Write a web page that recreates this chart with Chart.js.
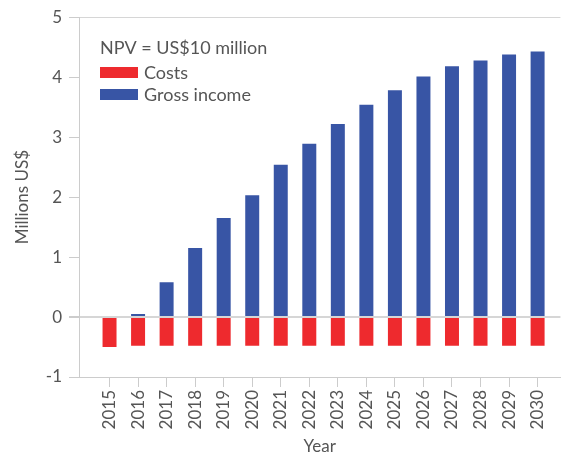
<!DOCTYPE html>
<html>
<head>
<meta charset="utf-8">
<script src="https://cdn.jsdelivr.net/npm/chart.js@4/dist/chart.umd.min.js"></script>
<style>
  html, body { margin: 0; padding: 0; background: #fff; }
  #wrap { width: 561px; height: 457px; }
</style>
</head>
<body>
<div id="wrap"><canvas id="chartNpv"></canvas></div>
<script>
// Datos (millones US$)
const years = [2015, 2016, 2017, 2018, 2019, 2020, 2021, 2022, 2023, 2024, 2025, 2026, 2027, 2028, 2029, 2030];
const costs = [-0.50, -0.48, -0.48, -0.48, -0.48, -0.48, -0.48, -0.48, -0.48, -0.48, -0.48, -0.48, -0.48, -0.48, -0.48, -0.48];
const grossIncome = [0, 0.05, 0.58, 1.15, 1.65, 2.03, 2.54, 2.89, 3.22, 3.54, 3.78, 4.01, 4.18, 4.28, 4.38, 4.43];
const yTicks = [-1, 0, 1, 2, 3, 4, 5];
const legendTitle = 'NPV = US$10 million';

const FONT = 'Lato, "Open Sans", sans-serif';
const TEXT = '#555555';
const LINE = '#cccccc';

// leyenda dibujada dentro del area del grafico
const insideLegend = {
    id: 'insideLegend',
    afterDraw(chart) {
        const ctx = chart.ctx;
        const x = chart.chartArea.left + 21;
        ctx.save();
        ctx.font = '18px ' + FONT;
        ctx.fillStyle = TEXT;
        ctx.textBaseline = 'middle';
        ctx.fillText(legendTitle, x, 48);
        chart.data.datasets.forEach((ds, i) => {
            const top = 67 + i * 22;
            ctx.fillStyle = ds.backgroundColor;
            ctx.fillRect(x, top, 38, 11);
            ctx.fillStyle = TEXT;
            ctx.fillText(ds.label, x + 44, top + 6);
        });
        ctx.restore();
    }
};

new Chart(document.getElementById('chartNpv'), {
    type: 'bar',
    data: {
        datasets: [
            {
                label: 'Costs',
                data: years.map((y, i) => ({ x: y, y: costs[i] })),
                backgroundColor: '#ee2a2e',
                grouped: false
            },
            {
                label: 'Gross income',
                data: years.map((y, i) => ({ x: y, y: grossIncome[i] })),
                backgroundColor: '#3855a5',
                grouped: false
            }
        ]
    },
    options: {
        responsive: true,
        maintainAspectRatio: false,
        animation: false,
        barPercentage: 0.49,
        categoryPercentage: 1,
        layout: { padding: { top: 17, right: 0, bottom: 0, left: 0 } },
        plugins: {
            legend: { display: false },
            tooltip: { enabled: false }
        },
        scales: {
            x: {
                type: 'linear',
                offset: false,
                min: 2013.93,
                max: 2030.8,
                afterBuildTicks(scale) {
                    scale.ticks = years.map(v => ({ value: v }));
                },
                afterFit(scale) { scale.height = 80; },
                grid: {
                    offset: false,
                    drawOnChartArea: false,
                    tickColor: LINE,
                    tickLength: 10
                },
                border: { color: LINE, width: 1 },
                ticks: {
                    autoSkip: false,
                    minRotation: 90,
                    maxRotation: 90,
                    padding: 3,
                    color: TEXT,
                    font: { family: FONT, size: 17 },
                    callback: v => String(v)
                },
                title: {
                    display: true,
                    text: 'Year',
                    color: TEXT,
                    font: { family: FONT, size: 17 },
                    padding: { top: 0, bottom: 0 }
                }
            },
            y: {
                min: -1,
                max: 5,
                z: 1,
                afterBuildTicks(scale) {
                    scale.ticks = yTicks.map(v => ({ value: v }));
                },
                afterFit(scale) { scale.width = 79; },
                grid: {
                    color: c => (c.tick && (c.tick.value === 0 || c.tick.value === 5)) ? '#d6d6d6' : 'rgba(0,0,0,0)',
                    lineWidth: c => (c.tick && c.tick.value === 0) ? 2 : 1,
                    tickColor: LINE,
                    tickLength: 10
                },
                border: { color: LINE, width: 1 },
                ticks: {
                    padding: 7,
                    color: TEXT,
                    font: { family: FONT, size: 17 }
                },
                title: {
                    display: true,
                    text: 'Millions US$',
                    color: TEXT,
                    font: { family: FONT, size: 17 },
                    padding: { top: 12, bottom: 0 }
                }
            }
        }
    },
    plugins: [insideLegend]
});
</script>
</body>
</html>
